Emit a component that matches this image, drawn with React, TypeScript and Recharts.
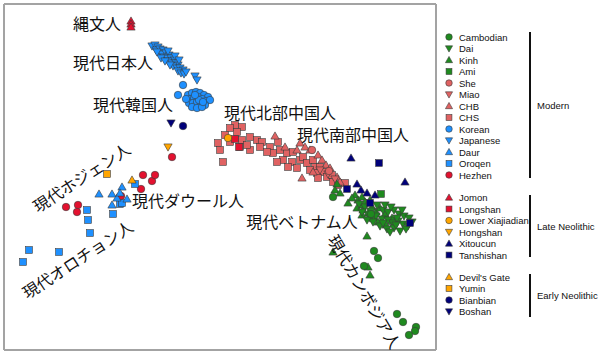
import { ScatterChart, Scatter, XAxis, YAxis, ReferenceDot } from 'recharts'

type Kind = 'circle' | 'triangle' | 'down' | 'square'
type Pt = [number, number]

// PC1 / PC2 (arbitrary units, PC2 grows downwards)
const PC1_TICKS = [21, 79.4, 137.8, 196.2, 254.6, 313, 371.4, 429.8]
const PC2_TICKS = [28, 72.3, 116.6, 160.9, 205.2, 249.5, 293.8, 338.1]

const GREEN = '#1f8a1f'
const SALMON = '#e06262'
const BLUE = '#1e90ff'
const RED = '#e3112f'
const ORANGE = '#ffa500'
const NAVY = '#00007a'

const cambodian: Pt[] = [[333, 197], [374, 251], [378, 258], [364, 266], [397, 314], [403, 322], [416, 327], [415, 331], [409, 335], [371, 214]]
const dai: Pt[] = [
  [365, 207], [371, 211], [377, 205], [383, 210], [388, 212], [394, 210], [399, 214], [404, 216], [409, 218],
  [370, 218], [376, 216], [382, 219], [388, 220], [393, 223], [398, 221], [403, 224], [408, 226], [380, 226],
  [387, 229], [394, 228], [400, 231], [406, 229], [373, 222], [367, 220], [362, 212], [359, 204], [385, 205],
  [391, 207], [397, 218], [402, 210], [412, 222], [390, 232], [396, 225], [383, 223],
]
const kinh: Pt[] = [
  [337, 184], [335, 190], [340, 193], [348, 203], [367, 236], [333, 252], [368, 267], [370, 275], [355, 195],
  [358, 200], [362, 197], [352, 198], [360, 205], [365, 202], [370, 200], [357, 208], [363, 210], [372, 207],
  [368, 213], [376, 212], [380, 208], [374, 218], [385, 214], [378, 222], [362, 215], [392, 218], [386, 225],
]
const ami: Pt[] = [[381, 194], [392, 221]]
const she: Pt[] = [[312, 150], [329, 171]]
const miao: Pt[] = [[320, 170], [328, 174], [335, 179]]
const chb: Pt[] = [
  [275, 136], [300, 143], [305, 147], [310, 150], [302, 178], [318, 155], [322, 160], [326, 165], [330, 168],
  [337, 177], [313, 172], [340, 182], [297, 150], [285, 147],
]
const chs: Pt[] = [
  [235, 125], [230, 128], [242, 127], [225, 135], [218, 143], [220, 150], [223, 162], [230, 142], [242, 140],
  [250, 137], [257, 140], [262, 142], [250, 150], [260, 147], [270, 147], [278, 142], [280, 150], [273, 153],
  [287, 153], [293, 152], [283, 160], [292, 162], [300, 160], [303, 157], [307, 163], [313, 160], [315, 167],
  [320, 167], [323, 172], [317, 173], [327, 177], [332, 175], [333, 182], [338, 185], [237, 132], [240, 147],
  [247, 145], [267, 152], [277, 162], [288, 167], [297, 168], [310, 170], [318, 178], [345, 183],
]
const korean: Pt[] = [
  [183, 85], [178, 95], [188, 95], [192, 93], [196, 92], [200, 93], [204, 95], [208, 97], [190, 99], [194, 98],
  [198, 97], [202, 99], [206, 101], [210, 100], [189, 103], [193, 103], [197, 102], [201, 104], [205, 105],
  [192, 107], [197, 108], [202, 107], [186, 99], [199, 100], [195, 95], [203, 102],
]
const japanese: Pt[] = [
  [152, 46], [155, 45], [158, 47], [156, 50], [160, 49], [163, 50], [159, 53], [162, 54], [166, 53], [169, 55],
  [164, 57], [167, 58], [171, 58], [174, 60], [168, 61], [172, 63], [176, 63], [178, 65], [173, 66], [177, 68],
  [180, 68], [183, 70], [178, 71], [181, 73], [184, 74], [170, 65], [175, 56], [161, 58], [165, 61], [186, 72],
  [195, 76], [197, 80], [157, 52], [168, 51], [179, 60],
]
const daur: Pt[] = [[99, 194], [112, 194], [122, 187], [127, 199], [112, 205], [117, 198], [120, 193]]
const oroqen: Pt[] = [[29, 250], [23, 262], [59, 252], [87, 210], [88, 220], [90, 233], [113, 214], [120, 204], [122, 203], [135, 184]]
const hezhen: Pt[] = [[66, 207], [78, 205], [77, 212], [121, 196], [141, 189], [143, 175], [152, 181], [155, 175], [172, 157]]

const jomon: Pt[] = [[131, 21], [131, 24], [131, 27]]
const longshan: Pt[] = [[235, 139], [239, 147]]
const lowerXiajiadian: Pt[] = [[228, 138]]
const hongshan: Pt[] = [[168, 147]]
const xitoucun: Pt[] = [[351, 158], [405, 182], [357, 184], [361, 190], [367, 193], [375, 195]]
const tanshishan: Pt[] = [[379, 163], [347, 189], [370, 203], [410, 223]]

const devilsGate: Pt[] = [[132, 180]]
const yumin: Pt[] = [[107, 174]]
const bianbian: Pt[] = [[183, 126]]
const boshan: Pt[] = [[171, 123]]

interface Group {
  name: string
  kind: Kind
  color: string
  data: Pt[]
}

const MODERN: Group[] = [
  { name: 'Cambodian', kind: 'circle', color: GREEN, data: cambodian },
  { name: 'Dai', kind: 'down', color: GREEN, data: dai },
  { name: 'Kinh', kind: 'triangle', color: GREEN, data: kinh },
  { name: 'Ami', kind: 'square', color: GREEN, data: ami },
  { name: 'She', kind: 'circle', color: SALMON, data: she },
  { name: 'Miao', kind: 'down', color: SALMON, data: miao },
  { name: 'CHB', kind: 'triangle', color: SALMON, data: chb },
  { name: 'CHS', kind: 'square', color: SALMON, data: chs },
  { name: 'Korean', kind: 'circle', color: BLUE, data: korean },
  { name: 'Japanese', kind: 'down', color: BLUE, data: japanese },
  { name: 'Daur', kind: 'triangle', color: BLUE, data: daur },
  { name: 'Oroqen', kind: 'square', color: BLUE, data: oroqen },
  { name: 'Hezhen', kind: 'circle', color: RED, data: hezhen },
]

const LATE: Group[] = [
  { name: 'Jomon', kind: 'triangle', color: RED, data: jomon },
  { name: 'Longshan', kind: 'square', color: RED, data: longshan },
  { name: 'Lower Xiajiadian', kind: 'circle', color: ORANGE, data: lowerXiajiadian },
  { name: 'Hongshan', kind: 'down', color: ORANGE, data: hongshan },
  { name: 'Xitoucun', kind: 'triangle', color: NAVY, data: xitoucun },
  { name: 'Tanshishan', kind: 'square', color: NAVY, data: tanshishan },
]

const EARLY: Group[] = [
  { name: "Devil's Gate", kind: 'triangle', color: ORANGE, data: devilsGate },
  { name: 'Yumin', kind: 'square', color: ORANGE, data: yumin },
  { name: 'Bianbian', kind: 'circle', color: NAVY, data: bianbian },
  { name: 'Boshan', kind: 'down', color: NAVY, data: boshan },
]

const LABELS: { text: string; x: number; y: number; angle: number }[] = [
  { text: '縄文人', x: 97, y: 24, angle: 0 },
  { text: '現代日本人', x: 113, y: 63, angle: 0 },
  { text: '現代韓国人', x: 133, y: 105, angle: 0 },
  { text: '現代北部中国人', x: 280, y: 113, angle: 0 },
  { text: '現代南部中国人', x: 353, y: 135, angle: 0 },
  { text: '現代ダウール人', x: 188, y: 201, angle: 0 },
  { text: '現代ベトナム人', x: 302, y: 222, angle: 0 },
  { text: '現代ホジェン人', x: 82, y: 178, angle: -33 },
  { text: '現代オロチョン人', x: 78, y: 260, angle: -33 },
  { text: '現代カンボジア人', x: 364, y: 292, angle: 60 },
]

const SANS = '"Liberation Sans", Arial, sans-serif'
const JP = '"Noto Sans CJK JP", sans-serif'
const AXIS = '#a3a3a3'

function Marker({ cx, cy, kind, fill, size }: { cx: number; cy: number; kind: Kind; fill: string; size: number }) {
  const h = size / 2
  const common = { fill, stroke: '#3b3b3b', strokeWidth: 0.6 }
  if (kind === 'circle') return <circle cx={cx} cy={cy} r={h} {...common} />
  if (kind === 'square') return <rect x={cx - h * 0.9} y={cy - h * 0.9} width={h * 1.8} height={h * 1.8} {...common} />
  const t = h * 1.1
  const pts =
    kind === 'triangle'
      ? `${cx},${cy - t} ${cx + t},${cy + t * 0.75} ${cx - t},${cy + t * 0.75}`
      : `${cx},${cy + t} ${cx + t},${cy - t * 0.75} ${cx - t},${cy - t * 0.75}`
  return <polygon points={pts} {...common} />
}

// draw order: modern in reverse, ancient on top
const DRAW: Group[] = [
  ...MODERN.filter((g) => g.color !== GREEN).slice().reverse(),
  ...['Ami', 'Kinh', 'Dai', 'Cambodian'].map((n) => MODERN.find((g) => g.name === n)!),
  ...LATE,
  ...EARLY,
]

function LegendBlock({ groups, top, title, bar }: { groups: Group[]; top: number; title: string; bar: [number, number] }) {
  const step = 11.5
  return (
    <g>
      {groups.map((g, i) => (
        <g key={g.name}>
          <Marker cx={13} cy={top + i * step} kind={g.kind} fill={g.color} size={6.5} />
          <text x={23} y={top + i * step + 3.5} fontSize={9.5} fontFamily={SANS} fill="#111">
            {g.name}
          </text>
        </g>
      ))}
      <line x1={94} x2={94} y1={bar[0]} y2={bar[1]} stroke="#111" strokeWidth={2} />
      <text x={101} y={(bar[0] + bar[1]) / 2 + 3.5} fontSize={9.5} fontFamily={SANS} fill="#111">
        {title}
      </text>
    </g>
  )
}

export default function App() {
  return (
    <div style={{ position: 'absolute', left: 0, top: 0, width: 600, height: 355, background: '#fff' }}>
      <ScatterChart width={440} height={355} margin={{ top: 3, right: 3, bottom: 4, left: 3 }}>
        <XAxis
          type="number"
          dataKey="x"
          domain={[4, 436]}
          ticks={PC1_TICKS}
          allowDataOverflow
          tick={false}
          tickSize={3}
          height={1}
          axisLine={{ stroke: AXIS, strokeWidth: 2 }}
          tickLine={{ stroke: '#777' }}
        />
        <YAxis
          type="number"
          dataKey="y"
          domain={[4, 350]}
          reversed
          ticks={PC2_TICKS}
          allowDataOverflow
          tick={false}
          tickSize={3}
          width={1}
          axisLine={{ stroke: AXIS, strokeWidth: 2 }}
          tickLine={{ stroke: '#777' }}
        />
        <XAxis xAxisId="top" orientation="top" type="number" domain={[4, 436]} height={1} tick={false} tickLine={false} axisLine={{ stroke: AXIS, strokeWidth: 2 }} />
        <YAxis yAxisId="right" orientation="right" type="number" domain={[4, 350]} width={1} tick={false} tickLine={false} axisLine={{ stroke: AXIS, strokeWidth: 2 }} />
        {DRAW.map((g) => (
          <Scatter
            key={g.name}
            name={g.name}
            data={g.data.map(([x, y]) => ({ x, y }))}
            isAnimationActive={false}
            shape={(p: any) => <Marker cx={p.cx} cy={p.cy} kind={g.kind} fill={g.color} size={7.5} />}
          />
        ))}
        {LABELS.map((l) => (
          <ReferenceDot
            key={l.text}
            x={l.x}
            y={l.y}
            r={0}
            fill="none"
            stroke="none"
            label={{ value: l.text, position: 'center', angle: l.angle, fontSize: 16, fill: '#111', fontFamily: JP }}
          />
        ))}
      </ScatterChart>
      <svg style={{ position: 'absolute', left: 436, top: 0 }} width={164} height={355}>
        <LegendBlock groups={MODERN} top={37} title="Modern" bar={[32, 178]} />
        <LegendBlock groups={LATE} top={197.5} title="Late Neolithic" bar={[195, 257]} />
        <LegendBlock groups={EARLY} top={277} title="Early Neolithic" bar={[274, 317]} />
      </svg>
    </div>
  )
}
